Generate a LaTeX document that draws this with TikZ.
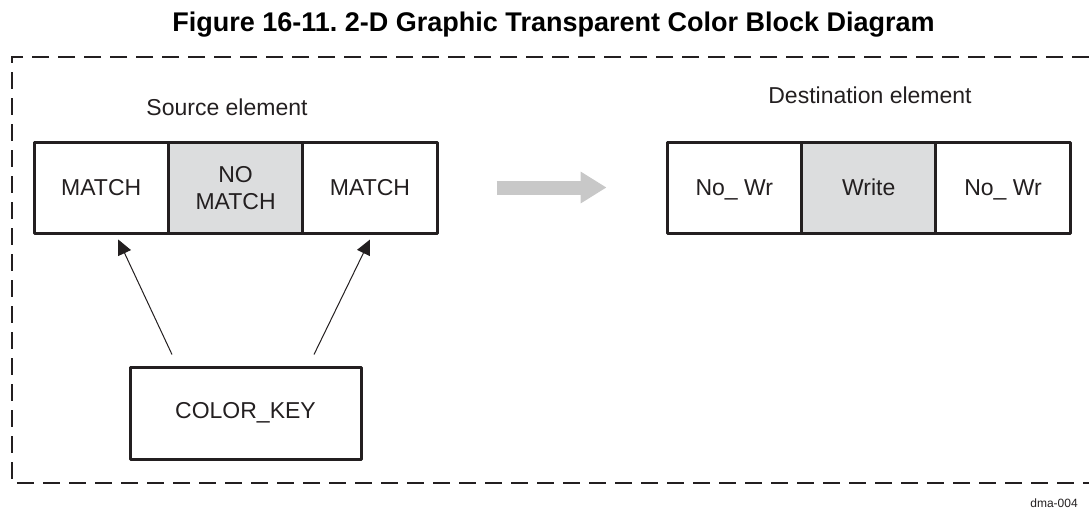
\documentclass[tikz,border=0pt]{standalone}
\usepackage{fontspec}
\setmainfont{Liberation Sans}
\usetikzlibrary{arrows.meta}
\definecolor{cellgray}{RGB}{220,221,222}
\definecolor{arrowgray}{RGB}{200,200,200}
\definecolor{inkgray}{RGB}{35,31,32}
\frenchspacing

\begin{document}
\begin{tikzpicture}[x=1pt, y=-1pt, every node/.style={font=\fontsize{23}{27}\selectfont, text=inkgray}, >={Triangle[length=15pt, width=14pt]},
	cell/.style={draw=inkgray, line width=3pt, line join=round, minimum width=134.4pt, minimum height=91pt, inner sep=0pt, text depth=0pt, align=center},
	keybox/.style={draw=inkgray, line width=3pt, line join=round, minimum width=231pt, minimum height=92pt}]
	\useasboundingbox (0,0) rectangle (1089,515);
	\node[font=\bfseries\fontsize{27}{31}\selectfont, text=black, anchor=base] (title) at (553.5,31) {Figure 16-11. 2-D Graphic Transparent Color Block Diagram};
	% dashed frame, open on the right
	\draw[inkgray, line width=2.5pt, dash pattern=on 17pt off 9pt] (1089,57) -- (12,57) -- (12,483) -- (1089,483);
	\node (srclabel) at (227,107) {Source element};
	\node (dstlabel) at (870,95) {Destination element};
	\foreach \i/\t/\f in {1/MATCH/white, 2/{NO\\MATCH}/cellgray, 3/MATCH/white} {
		\node[cell, fill=\f] (s\i) at ({101.2+134.4*(\i-1)},187.5) {\t};
	}
	\foreach \i/\t/\f in {1/No\_ Wr/white, 2/Write/cellgray, 3/No\_ Wr/white} {
		\node[cell, fill=\f] (d\i) at ({734.3+134.4*(\i-1)},187.5) {\t};
	}
	\draw[arrowgray, line width=14pt, -{Triangle[length=26pt, width=30pt]}, shorten <=58pt, shorten >=59pt] (s3.east) -- (d1.west);
	\node[keybox] (key) at (245.5,413) {COLOR\_KEY};
	\draw[->, inkgray, line width=1pt] ([xshift=-73.5pt, yshift=11pt]key.north) -- ([xshift=17pt, yshift=-5pt]s1.south);
	\draw[->, inkgray, line width=1pt] ([xshift=68.5pt, yshift=11pt]key.north) -- ([yshift=-5pt]s3.south);
	\node[font=\fontsize{12}{14}\selectfont] (tag) at (1054,503) {dma-004};
\end{tikzpicture}
\end{document}
